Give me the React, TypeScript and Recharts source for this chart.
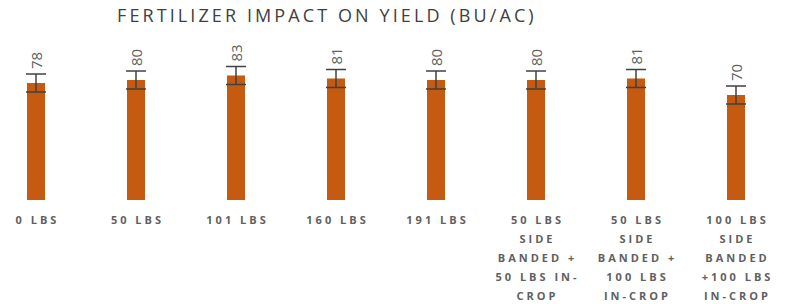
import { BarChart, Bar, XAxis, YAxis, ErrorBar, LabelList } from 'recharts';

const treatments = [
  '0 LBS',
  '50 LBS',
  '101 LBS',
  '160 LBS',
  '191 LBS',
  '50 LBS|SIDE|BANDED +|50 LBS IN-|CROP',
  '50 LBS|SIDE|BANDED +|100 LBS|IN-CROP',
  '100 LBS|SIDE|BANDED|+100 LBS|IN-CROP',
];
const yieldValues = [78, 80, 83, 81, 80, 80, 81, 70];
const yieldError = [6, 6, 6, 6, 6, 6, 6, 6];

const data = treatments.map((name, i) => ({
  name,
  value: yieldValues[i],
  err: yieldError[i],
}));

const BAR = '#C55A11';
const TEXT = '#5f5f5f';

const MultiLineTick = (props: any) => {
  const { x, y, payload } = props;
  const lines = String(payload.value).split('|');
  return (
    <text
      x={x}
      y={y}
      textAnchor="middle"
      fill={TEXT}
      fontSize={11}
      fontWeight={700}
      fontFamily="'Open Sans', sans-serif"
      letterSpacing={3}
    >
      {lines.map((l, i) => (
        <tspan key={i} x={x + 1.5} dy={i === 0 ? 16 : 19}>
          {l}
        </tspan>
      ))}
    </text>
  );
};

const ValueLabel = (props: any) => {
  const { x, y, width, value } = props;
  const cx = x + width / 2;
  const base = y - 14;
  return (
    <text
      x={cx}
      y={base}
      transform={`rotate(-90 ${cx} ${base})`}
      textAnchor="start"
      dominantBaseline="central"
      fill={TEXT}
      fontSize={15}
      fontFamily="'Open Sans', sans-serif"
    >
      {value}
    </text>
  );
};

const App = () => {
  return (
    <div style={{ position: 'fixed', top: 0, left: 0, width: 788, height: 304, overflow: 'hidden', background: '#fff' }}>
      <div
        style={{
          position: 'absolute',
          top: 3,
          left: 117,
          fontFamily: "'Open Sans', sans-serif",
          fontSize: 18,
          letterSpacing: 3.1,
          color: '#404040',
          whiteSpace: 'nowrap',
        }}
      >
        FERTILIZER IMPACT ON YIELD (BU/AC)
      </div>
      <div style={{ position: 'absolute', left: -14, top: 0 }}>
        <BarChart width={800} height={304} data={data} margin={{ top: 50, right: 0, bottom: 0, left: 0 }}>
          <XAxis
            dataKey="name"
            axisLine={false}
            tickLine={false}
            height={104}
            interval={0}
            tick={<MultiLineTick />}
          />
          <YAxis hide domain={[0, 100]} />
          <Bar dataKey="value" fill={BAR} barSize={18} isAnimationActive={false}>
            <ErrorBar dataKey="err" width={10} stroke="#404040" strokeWidth={1.5} direction="y" />
            <LabelList dataKey="value" content={<ValueLabel />} />
          </Bar>
        </BarChart>
      </div>
    </div>
  );
};

export default App;
